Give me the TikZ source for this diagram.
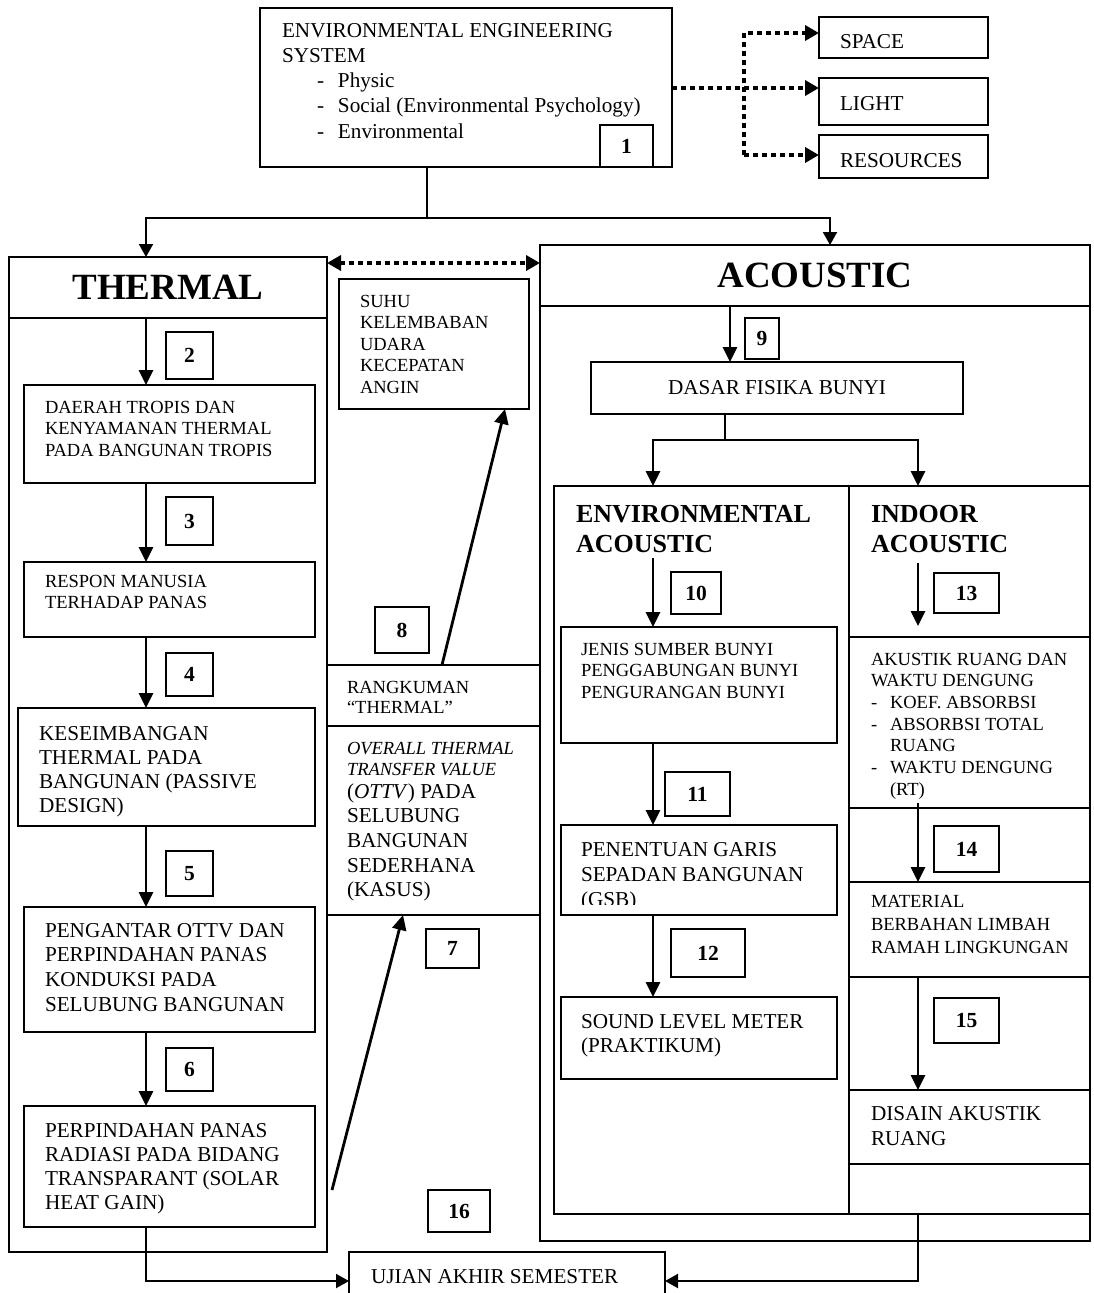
\documentclass[tikz,border=0pt]{standalone}
\usepackage{fontspec}
\setmainfont{Liberation Serif}
\usetikzlibrary{arrows.meta,calc}
\newcommand\myfs[2]{\fontsize{#1pt}{#2pt}\selectfont}
\newcommand\mkbox[7][]{\node[bx,#1,minimum width={(#5)-(#3)},minimum height={(#6)-(#4)}] (#2) at ({((#3)+(#5))/2},{((#4)+(#6))/2}) {#7};}
\newcommand\strS{\rule{0pt}{16pt}}
\newcommand\strB{\rule{0pt}{18pt}}
\begin{document}
\begin{tikzpicture}[x=1pt,y=-1pt,
 bx/.style={draw,line width=2pt,inner sep=0pt,outer sep=0pt},
 num/.style={font=\myfs{21.5}{24}\bfseries},
 txt/.style={anchor=north west,inner sep=0pt,outer sep=0pt,align=left},
 small/.style={txt,font=\myfs{18.5}{21.6}},
 big/.style={txt,font=\myfs{21.2}{24.5}},
 arr/.style={line width=2.8pt,-{Triangle[length=15pt,width=14pt]}},
 conn/.style={line width=2pt},
 ctip/.style={-{Triangle[length=13pt,width=14pt]}},
 dotl/.style={line width=4pt,dash pattern=on 5pt off 4pt},
 dtip/.style={-{Triangle[length=14pt,width=15pt]}},
]
\clip (0,0) rectangle (1094,1293);
\fill[white] (0,0) rectangle (1094,1293);

% ---------- top ----------
\mkbox{top}{260}{8}{672}{167}{}
\mkbox[num]{n1}{600}{125}{653}{167}{1}
\node[big,font=\myfs{21.2}{25.3}] (ttop) at (282,19) {\strB ENVIRONMENTAL ENGINEERING\\SYSTEM\\
 \hspace*{35pt}\makebox[21pt][l]{-}Physic\\
 \hspace*{35pt}\makebox[21pt][l]{-}Social (Environmental Psychology)\\
 \hspace*{35pt}\makebox[21pt][l]{-}Environmental};
\mkbox{space}{819}{17}{988}{58}{}
\mkbox{light}{819}{78}{988}{125}{}
\mkbox{res}{819}{135}{988}{178}{}
\node[big] (tspace) at (840,30) {\strB SPACE};
\node[big] (tlight) at (840,92) {\strB LIGHT};
\node[big] (tres) at (840,149) {\strB RESOURCES};

\coordinate (dv1) at (744,33);
\coordinate (dv2) at (744,155);
\coordinate (dh) at (744,88);
\draw[dotl,dtip] (top.east |- dh) -- (dh -| light.west);
\draw[dotl,dtip] (dv2) -- (dv1) -- (dv1 -| space.west);
\draw[dotl,dtip] (dv2) -- (dv2 -| res.west);

% ---------- thermal ----------
\mkbox[font=\myfs{37}{40}\bfseries]{thhead}{9}{257}{327}{318}{THERMAL}
\mkbox{thbody}{9}{318}{327}{1252}{}
\mkbox[num]{n2}{166}{332}{213}{379}{2}
\mkbox{daerah}{24}{385}{315}{483}{}
\mkbox[num]{n3}{166}{497}{213}{545}{3}
\mkbox{respon}{24}{562}{315}{637}{}
\mkbox[num]{n4}{166}{653}{213}{696}{4}
\mkbox{kes}{18}{708}{315}{826}{}
\mkbox[num]{n5}{166}{851}{213}{896}{5}
\mkbox{peng}{24}{907}{315}{1032}{}
\mkbox[num]{n6}{166}{1048}{213}{1091}{6}
\mkbox{perp}{24}{1106}{315}{1227}{}

\node[small] (tdaerah) at (45,397) {\strS DAERAH TROPIS DAN\\KENYAMANAN THERMAL\\PADA BANGUNAN TROPIS};
\node[small] (trespon) at (45,571) {\strS RESPON MANUSIA\\TERHADAP PANAS};
\node[big,font=\myfs{21.2}{24.1}] (tkes) at (39,722) {\strB KESEIMBANGAN\\THERMAL PADA\\BANGUNAN (PASSIVE\\DESIGN)};
\node[big,font=\myfs{21.2}{24.7}] (tpeng) at (45,919) {\strB PENGANTAR OTTV DAN\\PERPINDAHAN PANAS\\KONDUKSI PADA\\SELUBUNG BANGUNAN};
\node[big,font=\myfs{21.2}{24.3}] (tperp) at (45,1119) {\strB PERPINDAHAN PANAS\\RADIASI PADA BIDANG\\TRANSPARANT (SOLAR\\HEAT GAIN)};

\coordinate (tc) at (146,0);
\coordinate (j) at (427,218);
\coordinate (ac) at (830,0);
\draw[conn] (top.south -| j) -- (j);
\draw[conn,ctip] (j) -| (thhead.north -| tc);
\draw[arr] (thhead.south -| tc) -- (daerah.north -| tc);
\draw[arr] (daerah.south -| tc) -- (respon.north -| tc);
\draw[arr] (respon.south -| tc) -- (kes.north -| tc);
\draw[arr] (kes.south -| tc) -- (peng.north -| tc);
\draw[arr] (peng.south -| tc) -- (perp.north -| tc);

% ---------- middle ----------
\mkbox{suhu}{339}{279}{529}{409}{}
\node[small] (tsuhu) at (360,291) {\strS SUHU\\KELEMBABAN\\UDARA\\KECEPATAN\\ANGIN};
\mkbox[num]{n8}{375}{607}{429}{653}{8}
\mkbox{rang}{327}{665}{540}{726}{}
\mkbox{ottv}{327}{726}{540}{915}{}
\node[small,font=\myfs{18.5}{20.5}] (trang) at (347,677) {\strS RANGKUMAN\\``THERMAL''};
\node[small,font=\myfs{18.5}{21}\itshape] (tottv1) at (347,738) {\strS OVERALL THERMAL\\TRANSFER VALUE};
\node[big,font=\myfs{21.2}{24.7}] (tottv2) at (347,780) {\strB (\textit{OTTV}) PADA\\SELUBUNG\\BANGUNAN\\SEDERHANA\\(KASUS)};
\mkbox[num]{n7}{426}{929}{479}{968}{7}
\mkbox[num]{n16}{428}{1190}{490}{1232}{16}
\coordinate (m1) at (442,0);
\coordinate (m2) at (505,0);
\coordinate (p7) at (332,1190);
\coordinate (m3) at (403,0);
\draw[arr] (rang.north -| m1) -- (suhu.south -| m2);
\draw[arr] (p7) -- (ottv.south -| m3);

% ---------- acoustic ----------
\mkbox[font=\myfs{37}{40}\bfseries]{achead}{540}{245}{1090}{306}{ACOUSTIC}
\mkbox{acbody}{540}{306}{1090}{1241}{}
\draw[conn,ctip] (j) -| (achead.north -| ac);
\coordinate (dd) at (0,263);
\draw[dotl,{Triangle[length=14pt,width=15pt]}-{Triangle[length=14pt,width=15pt]}] (dd -| thhead.east) -- (dd -| achead.west);

\mkbox[num]{n9}{745}{318}{779}{359}{9}
\mkbox[font=\myfs{21.2}{24.5}]{dasar}{591}{362}{963}{414}{DASAR FISIKA BUNYI}
\coordinate (a9) at (730,0);
\draw[arr] (achead.south -| a9) -- (dasar.north -| a9);

\mkbox{envcol}{554}{486}{849}{1214}{}
\mkbox{indcol}{849}{486}{1090}{1214}{}
\coordinate (dj) at (725,440);
\coordinate (ec) at (653,0);
\coordinate (ic) at (918,0);
\draw[conn] (dasar.south -| dj) -- (dj);
\draw[arr] (dj) -| (envcol.north -| ec);
\draw[arr] (dj) -| (indcol.north -| ic);

\node[txt,font=\myfs{26}{30}\bfseries] (tenv) at (576,500) {\rule{0pt}{22pt}ENVIRONMENTAL\\ACOUSTIC};
\node[txt,font=\myfs{26}{30}\bfseries] (tind) at (871,500) {\rule{0pt}{22pt}INDOOR\\ACOUSTIC};

% environmental column
\mkbox[num]{n10}{671}{572}{721}{614}{10}
\mkbox{jenis}{561}{627}{837}{743}{}
\mkbox[num]{n11}{665}{772}{730}{816}{11}
\mkbox{pen}{561}{825}{837}{915}{}
\mkbox[num]{n12}{671}{929}{745}{977}{12}
\mkbox{sound}{561}{997}{837}{1079}{}
\node[small] (tjenis) at (581,639) {\strS JENIS SUMBER BUNYI\\PENGGABUNGAN BUNYI\\PENGURANGAN BUNYI};
\begin{scope}
\clip (561,825) rectangle (837,904);
\node[big,font=\myfs{21.2}{25}] (tpen) at (581,838) {\strB PENENTUAN GARIS\\SEPADAN BANGUNAN\\(GSB)};
\end{scope}
\node[big,font=\myfs{21.2}{24}] (tsound) at (581,1010) {\strB SOUND LEVEL METER\\(PRAKTIKUM)};
\coordinate (e1) at (653,558);
\draw[arr] (e1) -- (jenis.north -| e1);
\draw[arr] (jenis.south -| ec) -- (pen.north -| ec);
\draw[arr] (pen.south -| ec) -- (sound.north -| ec);

% indoor column
\mkbox[num]{n13}{934}{573}{999}{613}{13}
\mkbox{akus}{849}{637}{1090}{808}{}
\mkbox[num]{n14}{934}{826}{999}{872}{14}
\mkbox{mat}{849}{882}{1090}{977}{}
\mkbox[num]{n15}{934}{998}{999}{1043}{15}
\mkbox{dis}{849}{1090}{1090}{1164}{}
\node[small,font=\myfs{18.5}{21.7}] (takus) at (871,649) {\strS AKUSTIK RUANG DAN\\WAKTU DENGUNG\\
 \makebox[19pt][l]{-}KOEF. ABSORBSI\\
 \makebox[19pt][l]{-}ABSORBSI TOTAL\\
 \hspace*{19pt}RUANG\\
 \makebox[19pt][l]{-}WAKTU DENGUNG\\
 \hspace*{19pt}(RT)};
\node[small,font=\myfs{18.5}{23}] (tmat) at (871,891) {\strS MATERIAL\\BERBAHAN LIMBAH\\RAMAH LINGKUNGAN};
\node[big,font=\myfs{21.2}{25}] (tdis) at (871,1102) {\strB DISAIN AKUSTIK\\RUANG};
\coordinate (i1) at (918,563);
\coordinate (i2) at (918,626);
\coordinate (i3) at (918,803);
\draw[arr] (i1) -- (i2);
\draw[arr] (i3) -- (mat.north -| ic);
\draw[arr] (mat.south -| ic) -- (dis.north -| ic);

% ---------- final ----------
\mkbox{ujian}{349}{1252}{665}{1310}{}
\node[big] (tujian) at (371,1265) {\strB UJIAN AKHIR SEMESTER};
\draw[conn,ctip] (perp.south -| tc) |- (ujian.west);
\draw[conn,ctip] (indcol.south -| ic) |- (ujian.east);
\end{tikzpicture}
\end{document}
